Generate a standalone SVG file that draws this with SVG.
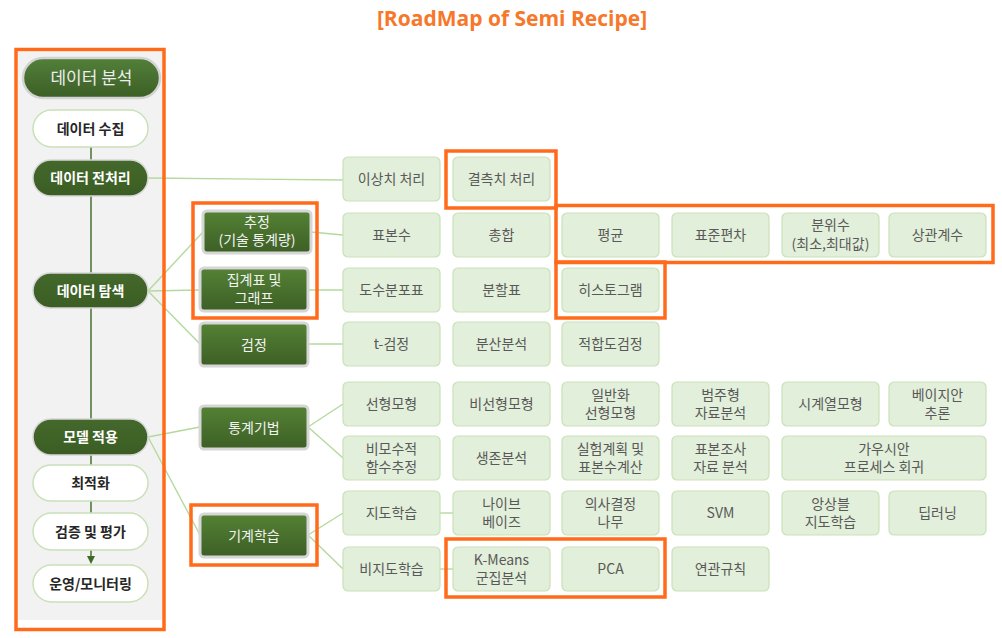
<svg xmlns="http://www.w3.org/2000/svg" width="1002" height="638" viewBox="0 0 1002 638">
<style>
.title{font-family:"Open Sans","Noto Sans CJK KR",sans-serif;font-weight:bold;font-size:21px;fill:#F7772B}
.leaf rect{fill:#E2EFDA;stroke:#C9E1B8;stroke-width:1.2}
.leaf text{font-family:"Noto Sans CJK KR","Noto Sans",sans-serif;font-size:14px;fill:#595959;text-anchor:middle}
.cat rect{fill:url(#gCat);stroke:#D6D6D6;stroke-width:3}
.cat text{font-family:"Noto Sans CJK KR","Noto Sans",sans-serif;font-size:14px;fill:#F2F2F2;text-anchor:middle}
.dark rect{fill:url(#gDark);stroke:#D6D6D6;stroke-width:1.5}
.dark text{font-family:"Noto Sans CJK KR","Noto Sans",sans-serif;font-size:14px;font-weight:bold;fill:#FFFFFF;text-anchor:middle}
.light rect{fill:#FFFFFF;stroke:#C9E1B8;stroke-width:1.5}
.light text{font-family:"Noto Sans CJK KR","Noto Sans",sans-serif;font-size:14px;font-weight:bold;fill:#262626;text-anchor:middle}
.hl{fill:none;stroke:#FF6B1A;stroke-width:3.5}
.conn path{fill:none;stroke:#B5D99C;stroke-width:1.4}
.spine{fill:none;stroke:#3E6A26;stroke-width:1.4}
</style>
<defs>
<linearGradient id="gCat" x1="0" y1="0" x2="0" y2="1">
<stop offset="0" stop-color="#548235"/>
<stop offset="1" stop-color="#3D5F25"/>
</linearGradient>
<linearGradient id="gDark" x1="0" y1="0" x2="0" y2="1">
<stop offset="0" stop-color="#44692B"/>
<stop offset="1" stop-color="#3B5D24"/>
</linearGradient>
<linearGradient id="gTop" x1="0" y1="0" x2="0" y2="1">
<stop offset="0" stop-color="#52803A"/>
<stop offset="1" stop-color="#3C5E25"/>
</linearGradient>
<marker id="arr" markerWidth="8" markerHeight="8" refX="4" refY="4" orient="auto" markerUnits="userSpaceOnUse">
<path d="M0,0 L8,4 L0,8 Z" fill="#3E6A26"/>
</marker>
</defs>
<rect width="1002" height="638" fill="#FFFFFF"/>
<text class="title" x="512" y="26" text-anchor="middle">[RoadMap of Semi Recipe]</text>

<!-- left panel -->
<rect x="18" y="52" width="145" height="568" fill="#F2F2F2"/>

<!-- spine -->
<g id="spine">
<path class="spine" d="M91,147 V160 M91,196 V273 M91,308 V419 M91,455 V465 M91,501 V513"/>
<path class="spine" d="M91,550 V560" marker-end="url(#arr)"/>
</g>

<!-- connectors -->
<g id="connectors" class="conn">
<path d="M148,178 L343,180"/>
<path d="M148,291 L203,232"/>
<path d="M148,291 L200,290"/>
<path d="M148,291 L200,344"/>
<path d="M311,232 L343,235"/>
<path d="M308,290 L343,290"/>
<path d="M308,344 L343,344"/>
<path d="M148,437 L200,427"/>
<path d="M148,437 L200,535"/>
<path d="M308,427 L343,404"/>
<path d="M308,427 L343,458"/>
<path d="M308,535 L343,513"/>
<path d="M308,535 L343,569"/>
<path d="M439,513 L453,513"/>
<path d="M439,569 L453,569"/>
</g>

<!-- left column nodes -->
<g id="n-analysis">
<rect x="23" y="58" width="137" height="40" rx="20" fill="url(#gTop)" stroke="#D3D3D3" stroke-width="2.5"/>
<text x="91.5" y="83.5" text-anchor="middle" font-family="Noto Sans CJK KR, Noto Sans, sans-serif" font-size="17" fill="#EDEDED">데이터 분석</text>
</g>
<g id="n-collect" class="light"><rect x="33" y="110" width="115" height="37" rx="18.5"/><text x="90.5" y="133.5">데이터 수집</text></g>
<g id="n-preproc" class="dark"><rect x="33" y="160" width="115" height="36" rx="18"/><text x="90.5" y="183">데이터 전처리</text></g>
<g id="n-explore" class="dark"><rect x="33" y="273" width="115" height="35" rx="17.5"/><text x="90.5" y="296">데이터 탐색</text></g>
<g id="n-model" class="dark"><rect x="33" y="419" width="115" height="36" rx="18"/><text x="90.5" y="442">모델 적용</text></g>
<g id="n-opt" class="light"><rect x="33" y="465" width="115" height="36" rx="18"/><text x="90.5" y="488">최적화</text></g>
<g id="n-valid" class="light"><rect x="33" y="513" width="115" height="37" rx="18.5"/><text x="90.5" y="536.5">검증 및 평가</text></g>
<g id="n-ops" class="light"><rect x="33" y="565" width="115" height="37" rx="18.5"/><text x="90.5" y="588.5">운영/모니터링</text></g>

<!-- category nodes -->
<g id="c-est" class="cat"><rect x="203" y="211" width="108" height="42" rx="4"/><text x="257" y="227">추정</text><text x="257" y="245">(기술 통계량)</text></g>
<g id="c-table" class="cat"><rect x="200" y="268" width="108" height="43" rx="4"/><text x="254" y="285">집계표 및</text><text x="254" y="303">그래프</text></g>
<g id="c-test" class="cat"><rect x="200" y="323" width="108" height="43" rx="4"/><text x="254" y="349.5">검정</text></g>
<g id="c-stat" class="cat"><rect x="200" y="406" width="108" height="43" rx="4"/><text x="254" y="432.5">통계기법</text></g>
<g id="c-ml" class="cat"><rect x="200" y="514" width="108" height="43" rx="4"/><text x="254" y="540.5">기계학습</text></g>

<!-- leaf nodes -->
<g id="l-outlier" class="leaf"><rect x="343" y="157" width="97" height="44" rx="5"/><text x="391.5" y="184">이상치 처리</text></g>
<g id="l-missing" class="leaf"><rect x="453" y="157" width="97" height="44" rx="5"/><text x="501.5" y="184">결측치 처리</text></g>

<g id="l-n" class="leaf"><rect x="343" y="213" width="97" height="44" rx="5"/><text x="391.5" y="240">표본수</text></g>
<g id="l-sum" class="leaf"><rect x="453" y="213" width="97" height="44" rx="5"/><text x="501.5" y="240">총합</text></g>
<g id="l-mean" class="leaf"><rect x="562" y="213" width="97" height="44" rx="5"/><text x="610.5" y="240">평균</text></g>
<g id="l-sd" class="leaf"><rect x="672" y="213" width="97" height="44" rx="5"/><text x="720.5" y="240">표준편차</text></g>
<g id="l-quant" class="leaf"><rect x="782" y="213" width="97" height="44" rx="5"/><text x="830.5" y="230">분위수</text><text x="830.5" y="249">(최소,최대값)</text></g>
<g id="l-corr" class="leaf"><rect x="889" y="213" width="97" height="44" rx="5"/><text x="937.5" y="240">상관계수</text></g>

<g id="l-freq" class="leaf"><rect x="343" y="268" width="97" height="44" rx="5"/><text x="391.5" y="295">도수분포표</text></g>
<g id="l-cont" class="leaf"><rect x="453" y="268" width="97" height="44" rx="5"/><text x="501.5" y="295">분할표</text></g>
<g id="l-hist" class="leaf"><rect x="562" y="268" width="97" height="44" rx="5"/><text x="610.5" y="295">히스토그램</text></g>

<g id="l-ttest" class="leaf"><rect x="343" y="322" width="97" height="44" rx="5"/><text x="391.5" y="349">t-검정</text></g>
<g id="l-anova" class="leaf"><rect x="453" y="322" width="97" height="44" rx="5"/><text x="501.5" y="349">분산분석</text></g>
<g id="l-gof" class="leaf"><rect x="562" y="322" width="97" height="44" rx="5"/><text x="610.5" y="349">적합도검정</text></g>

<g id="l-lin" class="leaf"><rect x="343" y="382" width="97" height="44" rx="5"/><text x="391.5" y="409">선형모형</text></g>
<g id="l-nonlin" class="leaf"><rect x="453" y="382" width="97" height="44" rx="5"/><text x="501.5" y="409">비선형모형</text></g>
<g id="l-glm" class="leaf"><rect x="562" y="382" width="97" height="44" rx="5"/><text x="610.5" y="400">일반화</text><text x="610.5" y="418">선형모형</text></g>
<g id="l-cat" class="leaf"><rect x="672" y="382" width="97" height="44" rx="5"/><text x="720.5" y="400">범주형</text><text x="720.5" y="418">자료분석</text></g>
<g id="l-ts" class="leaf"><rect x="782" y="382" width="97" height="44" rx="5"/><text x="830.5" y="409">시계열모형</text></g>
<g id="l-bayes" class="leaf"><rect x="889" y="382" width="97" height="44" rx="5"/><text x="937.5" y="400">베이지안</text><text x="937.5" y="418">추론</text></g>

<g id="l-nonpar" class="leaf"><rect x="343" y="436" width="97" height="44" rx="5"/><text x="391.5" y="454">비모수적</text><text x="391.5" y="472">함수추정</text></g>
<g id="l-surv" class="leaf"><rect x="453" y="436" width="97" height="44" rx="5"/><text x="501.5" y="463">생존분석</text></g>
<g id="l-doe" class="leaf"><rect x="562" y="436" width="97" height="44" rx="5"/><text x="610.5" y="454">실험계획 및</text><text x="610.5" y="472">표본수계산</text></g>
<g id="l-survey" class="leaf"><rect x="672" y="436" width="97" height="44" rx="5"/><text x="720.5" y="454">표본조사</text><text x="720.5" y="472">자료 분석</text></g>
<g id="l-gp" class="leaf"><rect x="782" y="436" width="204" height="44" rx="5"/><text x="884" y="454">가우시안</text><text x="884" y="472">프로세스 회귀</text></g>

<g id="l-sup" class="leaf"><rect x="343" y="491" width="97" height="44" rx="5"/><text x="391.5" y="518">지도학습</text></g>
<g id="l-nb" class="leaf"><rect x="453" y="491" width="97" height="44" rx="5"/><text x="501.5" y="509">나이브</text><text x="501.5" y="527">베이즈</text></g>
<g id="l-tree" class="leaf"><rect x="562" y="491" width="97" height="44" rx="5"/><text x="610.5" y="509">의사결정</text><text x="610.5" y="527">나무</text></g>
<g id="l-svm" class="leaf"><rect x="672" y="491" width="97" height="44" rx="5"/><text x="720.5" y="518">SVM</text></g>
<g id="l-ens" class="leaf"><rect x="782" y="491" width="97" height="44" rx="5"/><text x="830.5" y="509">앙상블</text><text x="830.5" y="527">지도학습</text></g>
<g id="l-dl" class="leaf"><rect x="889" y="491" width="97" height="44" rx="5"/><text x="937.5" y="518">딥러닝</text></g>

<g id="l-unsup" class="leaf"><rect x="343" y="547" width="97" height="44" rx="5"/><text x="391.5" y="574">비지도학습</text></g>
<g id="l-km" class="leaf"><rect x="453" y="547" width="97" height="44" rx="5"/><text x="501.5" y="565">K-Means</text><text x="501.5" y="583">군집분석</text></g>
<g id="l-pca" class="leaf"><rect x="562" y="547" width="97" height="44" rx="5"/><text x="610.5" y="574">PCA</text></g>
<g id="l-assoc" class="leaf"><rect x="672" y="547" width="97" height="44" rx="5"/><text x="720.5" y="574">연관규칙</text></g>

<!-- highlights -->
<g id="highlights">
<rect class="hl" x="16" y="49.5" width="148" height="580"/>
<rect class="hl" x="193" y="203" width="124" height="115"/>
<rect class="hl" x="191" y="505" width="126" height="60"/>
<rect class="hl" x="446" y="151" width="110" height="57"/>
<rect class="hl" x="556" y="205.5" width="437" height="57"/>
<rect class="hl" x="556" y="262" width="109" height="56"/>
<rect class="hl" x="446" y="539" width="219" height="58"/>
</g>
</svg>
